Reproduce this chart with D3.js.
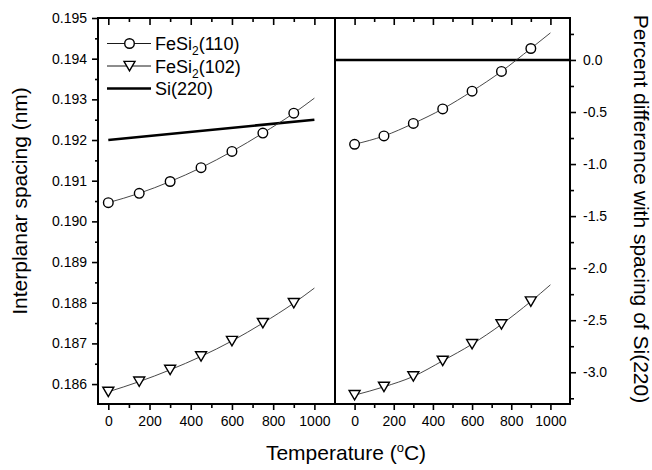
<!DOCTYPE html>
<html>
<head>
<meta charset="utf-8">
<script src="https://cdn.jsdelivr.net/npm/d3@7"></script>
<style>
  html, body { margin: 0; padding: 0; background: #fff; }
  svg { display: block; font-family: "Liberation Sans", Arial, sans-serif; }
  .tick text { font-size: 14px; fill: #000; }
  .tick line { stroke: #000; stroke-width: 1.6px; }
</style>
</head>
<body>
<svg id="chart" width="652" height="470"></svg>
<script>
// Annealing temperatures (°C)
const temps = [0, 150, 300, 450, 600, 750, 900];
// Interplanar spacing (nm)
const d110 = [0.19046, 0.19069, 0.19098, 0.19132, 0.19172, 0.19217, 0.19266];
const d102 = [0.18581, 0.18606, 0.18635, 0.18668, 0.18706, 0.18750, 0.18799];
const siTemps = [0, 1000];
const dSi = [0.19200, 0.19250];
// Percent difference from the Si(220) spacing
const pct110 = [-0.81, -0.73, -0.61, -0.47, -0.30, -0.11, 0.11];
const pct102 = [-3.22, -3.14, -3.04, -2.89, -2.73, -2.54, -2.32];
// Fitted curves continue to 1000 °C
const fitEndTemp = 1000;
const fitEnd110 = 0.19303, fitEnd102 = 0.18836;
const fitEndPct110 = 0.26, fitEndPct102 = -2.16;
// Tick labels
const xTicks = [0, 200, 400, 600, 800, 1000];
const xMinor = [100, 300, 500, 700, 900];
const yLTicks = [0.186, 0.187, 0.188, 0.189, 0.190, 0.191, 0.192, 0.193, 0.194, 0.195];
const yLMinor = [0.1865, 0.1875, 0.1885, 0.1895, 0.1905, 0.1915, 0.1925, 0.1935, 0.1945];
const yRTicks = [0.0, -0.5, -1.0, -1.5, -2.0, -2.5, -3.0];
const yRMinor = [0.25, -0.25, -0.75, -1.25, -1.75, -2.25, -2.75, -3.25];

const svg = d3.select("#chart");
const plotTop = 18, plotBottom = 404;
const xL = d3.scaleLinear([-50, 1100], [98, 335]);
const xR = d3.scaleLinear([-100, 1100], [335, 570]);
const yL = d3.scaleLinear([0.18551, 0.195], [plotBottom, plotTop]);
const yR = d3.scaleLinear([-3.305, 0.403], [plotBottom, plotTop]);

function addAxis(axis, transform, hideLabels) {
  const g = svg.append("g").attr("transform", transform).call(axis);
  g.select(".domain").remove();
  if (hideLabels) g.selectAll("text").remove();
  return g;
}

// Panel axes and ticks
[xL, xR].forEach(x => {
  addAxis(d3.axisBottom(x).tickValues(xTicks).tickSize(6).tickPadding(6).tickFormat(d3.format("d")), `translate(0,${plotBottom})`);
  addAxis(d3.axisBottom(x).tickValues(xMinor).tickSize(4), `translate(0,${plotBottom})`, true);
  addAxis(d3.axisTop(x).tickValues(xTicks).tickSize(-7), `translate(0,${plotTop})`, true);
  addAxis(d3.axisTop(x).tickValues(xMinor).tickSize(-4), `translate(0,${plotTop})`, true);
});
addAxis(d3.axisLeft(yL).tickValues(yLTicks).tickSize(6).tickPadding(5).tickFormat(d3.format(".3f")), "translate(98,0)");
addAxis(d3.axisLeft(yL).tickValues(yLMinor).tickSize(3), "translate(98,0)", true);
addAxis(d3.axisRight(yR).tickValues(yRTicks).tickSize(6).tickPadding(7).tickFormat(d => d.toFixed(1)), "translate(570,0)");
addAxis(d3.axisRight(yR).tickValues(yRMinor).tickSize(4), "translate(570,0)", true);

// Panel frames
svg.append("rect").attr("x", 98).attr("y", plotTop).attr("width", 335 - 98).attr("height", plotBottom - plotTop)
  .attr("fill", "none").attr("stroke", "#000").attr("stroke-width", 2);
svg.append("rect").attr("x", 335).attr("y", plotTop).attr("width", 570 - 335).attr("height", plotBottom - plotTop)
  .attr("fill", "none").attr("stroke", "#000").attr("stroke-width", 2);

const tri = "M-5.5,-4.6L5.5,-4.6L0,4.8Z";

function series(x, y, vals, endVal, shape) {
  const pts = temps.map((t, i) => [t, vals[i]]);
  const fit = pts.concat([[fitEndTemp, endVal]]);
  svg.append("path").datum(fit)
    .attr("d", d3.line().x(d => x(d[0])).y(d => y(d[1])).curve(d3.curveMonotoneX))
    .attr("fill", "none").attr("stroke", "#333").attr("stroke-width", 0.9);
  const g = svg.append("g");
  pts.forEach(p => {
    if (shape === "circle") {
      g.append("circle").attr("cx", x(p[0])).attr("cy", y(p[1])).attr("r", 4.8)
        .attr("fill", "#fff").attr("stroke", "#000").attr("stroke-width", 1.4);
    } else {
      g.append("path").attr("d", tri).attr("transform", `translate(${x(p[0])},${y(p[1])})`)
        .attr("fill", "#fff").attr("stroke", "#000").attr("stroke-width", 1.4).attr("stroke-linejoin", "miter");
    }
  });
}

// Left panel: spacings
svg.append("path").datum(siTemps.map((t, i) => [t, dSi[i]]))
  .attr("d", d3.line().x(d => xL(d[0])).y(d => yL(d[1])))
  .attr("stroke", "#000").attr("stroke-width", 2.6).attr("fill", "none");
series(xL, yL, d110, fitEnd110, "circle");
series(xL, yL, d102, fitEnd102, "triangle");

// Right panel: percent difference, with the zero reference line
svg.append("line").attr("x1", 335).attr("x2", 570).attr("y1", yR(0)).attr("y2", yR(0))
  .attr("stroke", "#000").attr("stroke-width", 2.6);
series(xR, yR, pct110, fitEndPct110, "circle");
series(xR, yR, pct102, fitEndPct102, "triangle");

// Legend
const legend = svg.append("g");
const rows = [
  { y: 43.5, kind: "circle", base: "FeSi", sub: "2", rest: "(110)" },
  { y: 66, kind: "triangle", base: "FeSi", sub: "2", rest: "(102)" },
  { y: 88.5, kind: "si", base: "Si(220)", sub: null, rest: "" }
];
rows.forEach(r => {
  legend.append("line").attr("x1", 107).attr("x2", 151).attr("y1", r.y).attr("y2", r.y)
    .attr("stroke", "#000").attr("stroke-width", r.kind === "si" ? 2.6 : 0.9);
  if (r.kind === "circle") {
    legend.append("circle").attr("cx", 129.5).attr("cy", r.y).attr("r", 4.8)
      .attr("fill", "#fff").attr("stroke", "#000").attr("stroke-width", 1.4);
  } else if (r.kind === "triangle") {
    legend.append("path").attr("d", tri).attr("transform", `translate(129.5,${r.y})`)
      .attr("fill", "#fff").attr("stroke", "#000").attr("stroke-width", 1.4);
  }
  const t = legend.append("text").attr("x", 155).attr("y", r.y + 6.5).attr("font-size", 18);
  t.append("tspan").text(r.base);
  if (r.sub) {
    t.append("tspan").attr("font-size", 12).attr("dy", 5).text(r.sub);
    t.append("tspan").attr("dy", -5).text(r.rest);
  }
});

// Axis titles
svg.append("text").attr("transform", "translate(27,201) rotate(-90)")
  .attr("text-anchor", "middle").attr("font-size", 21).text("Interplanar spacing (nm)");
svg.append("text").attr("transform", "translate(634,209) rotate(90)")
  .attr("text-anchor", "middle").attr("font-size", 21).text("Percent difference with spacing of Si(220)");
const xt = svg.append("text").attr("x", 346).attr("y", 460).attr("text-anchor", "middle").attr("font-size", 21);
xt.append("tspan").text("Temperature (");
xt.append("tspan").attr("font-size", 13).attr("dy", -8).text("o");
xt.append("tspan").attr("dy", 8).text("C)");
</script>
</body>
</html>
